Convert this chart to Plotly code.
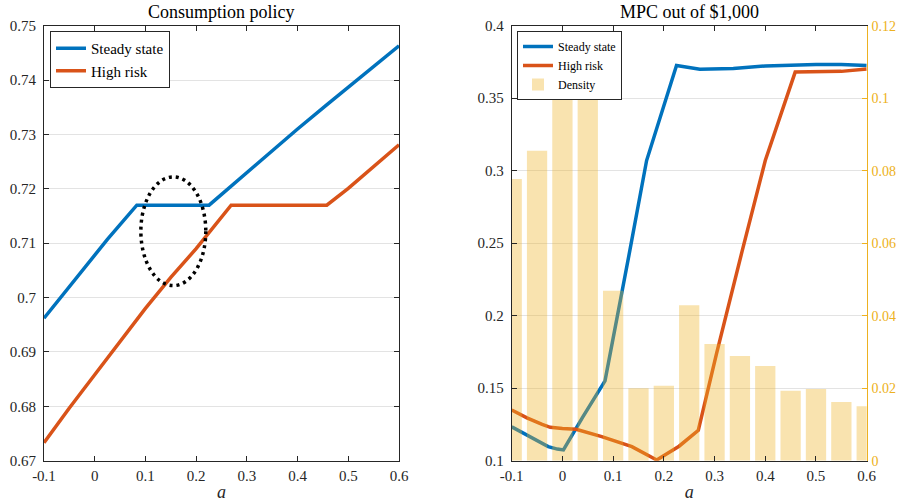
import plotly.graph_objects as go

# ---- Consumption policy (left panel) ----
cons_ss_a = [-0.1, -0.05, 0.0, 0.025, 0.05, 0.083, 0.2255, 0.3, 0.4, 0.458, 0.5, 0.6]
cons_ss_c = [0.6962, 0.7020, 0.7079, 0.7107, 0.7134, 0.717, 0.717, 0.7230, 0.7310, 0.7355, 0.7387, 0.7463]

cons_hr_a = [-0.1, -0.05, 0.0, 0.05, 0.1, 0.15, 0.2, 0.269, 0.4576, 0.5, 0.6]
cons_hr_c = [0.6733, 0.6797, 0.6858, 0.6918, 0.6980, 0.7037, 0.7090, 0.717, 0.717, 0.7201, 0.7281]

# ---- MPC out of $1,000 (right panel) ----
mpc_ss_a = [-0.1, -0.07, -0.04, -0.028, -0.01, 0.002, 0.04, 0.084, 0.133, 0.166, 0.225,
            0.245, 0.271, 0.337, 0.4, 0.5, 0.55, 0.6]
mpc_ss_m = [0.1234, 0.1175, 0.1120, 0.1097, 0.1080, 0.1074, 0.130, 0.155, 0.245, 0.307, 0.3725,
            0.3712, 0.370, 0.3705, 0.3722, 0.3733, 0.3733, 0.3725]

mpc_hr_a = [-0.1, -0.07, -0.04, -0.024, 0.0, 0.027, 0.0775, 0.137, 0.186, 0.23, 0.268,
            0.304, 0.354, 0.40, 0.459, 0.5, 0.55, 0.6]
mpc_hr_m = [0.135, 0.1295, 0.1250, 0.1230, 0.1222, 0.1217, 0.1166, 0.1097, 0.1005, 0.110, 0.121,
            0.174, 0.244, 0.307, 0.368, 0.368, 0.3685, 0.3702]

density_a = [-0.1, -0.05, 0.0, 0.05, 0.1, 0.15, 0.2, 0.25, 0.3, 0.35, 0.4, 0.45, 0.5, 0.55, 0.6]
density_v = [0.0777, 0.0855, 0.1012, 0.107, 0.0469, 0.0200, 0.0207, 0.0429, 0.0322,
             0.0289, 0.0261, 0.0193, 0.0198, 0.0162, 0.0150]

# ---- tick labels ----
a_ticks = [-0.1, 0.0, 0.1, 0.2, 0.3, 0.4, 0.5, 0.6]
a_ticktext = ["-0.1", "0", "0.1", "0.2", "0.3", "0.4", "0.5", "0.6"]
cons_ticks = [0.67, 0.68, 0.69, 0.70, 0.71, 0.72, 0.73, 0.74, 0.75]
cons_ticktext = ["0.67", "0.68", "0.69", "0.7", "0.71", "0.72", "0.73", "0.74", "0.75"]
mpc_ticks = [0.1, 0.15, 0.2, 0.25, 0.3, 0.35, 0.4]
mpc_ticktext = ["0.1", "0.15", "0.2", "0.25", "0.3", "0.35", "0.4"]
dens_ticks = [0.0, 0.02, 0.04, 0.06, 0.08, 0.10, 0.12]
dens_ticktext = ["0", "0.02", "0.04", "0.06", "0.08", "0.1", "0.12"]

# highlighted region on the consumption policy
ellipse_center = (0.155, 0.7122)
ellipse_radius = (0.064, 0.0100)

BLUE = "#0072BD"
RED = "#D95319"
GOLD = "#EDB120"
INK = "#262626"
FONT = "Liberation Serif"
W, H = 899, 502

fig = go.Figure()

fig.add_trace(go.Scatter(x=cons_ss_a, y=cons_ss_c, mode="lines", name="Steady state",
                         line=dict(color=BLUE, width=3.5), xaxis="x", yaxis="y", legend="legend"))
fig.add_trace(go.Scatter(x=cons_hr_a, y=cons_hr_c, mode="lines", name="High risk",
                         line=dict(color=RED, width=3.5), xaxis="x", yaxis="y", legend="legend"))

fig.add_trace(go.Scatter(x=mpc_ss_a, y=mpc_ss_m, mode="lines", name="Steady state",
                         line=dict(color=BLUE, width=3.5), xaxis="x2", yaxis="y2", legend="legend2"))
fig.add_trace(go.Scatter(x=mpc_hr_a, y=mpc_hr_m, mode="lines", name="High risk",
                         line=dict(color=RED, width=3.5), xaxis="x2", yaxis="y2", legend="legend2"))
fig.add_trace(go.Bar(x=density_a, y=density_v, name="Density", width=0.04,
                     marker=dict(color="rgba(237,177,32,0.36)", line=dict(width=0)),
                     xaxis="x2", yaxis="y3", legend="legend2"))

ydom = [1 - 460.7 / H, 1 - 25.7 / H]
common_x = dict(range=[-0.1, 0.6], tickvals=a_ticks, ticktext=a_ticktext, ticks="inside",
                ticklen=5, tickcolor=INK, showline=True, linecolor=INK, linewidth=1,
                mirror="ticks", showgrid=False, zeroline=False, ticklabelstandoff=1,
                automargin=False,
                tickfont=dict(family=FONT, size=15, color=INK),
                title=dict(text="<i>a</i>", font=dict(family=FONT, size=18, color=INK), standoff=4))
ytick_font = dict(family=FONT, size=15, color=INK)

fig.update_layout(
    width=W, height=H,
    margin=dict(l=0, r=0, t=0, b=0, autoexpand=False),
    paper_bgcolor="white", plot_bgcolor="white",
    showlegend=True,
    barmode="overlay",
    xaxis=dict(domain=[44 / W, 399 / W], anchor="y", **common_x),
    yaxis=dict(domain=ydom, anchor="x", range=[0.67, 0.75], tickvals=cons_ticks,
               ticktext=cons_ticktext, ticks="inside", ticklen=5, tickcolor=INK,
               showline=True, linecolor=INK, linewidth=1, mirror="ticks",
               showgrid=True, gridcolor="#e3e3e3", gridwidth=1, zeroline=False,
               automargin=False, ticklabelstandoff=4, tickfont=ytick_font),
    xaxis2=dict(domain=[511.7 / W, 866.7 / W], anchor="y2", **common_x),
    yaxis2=dict(domain=ydom, anchor="x2", range=[0.1, 0.4], tickvals=mpc_ticks,
                ticktext=mpc_ticktext, ticks="inside", ticklen=5, tickcolor=INK,
                showline=True, linecolor=INK, linewidth=1, mirror=False,
                showgrid=True, gridcolor="#e3e3e3", gridwidth=1, zeroline=False,
                automargin=False, ticklabelstandoff=4, tickfont=ytick_font),
    yaxis3=dict(anchor="x2", overlaying="y2", side="right", range=[0, 0.12],
                tickvals=dens_ticks, ticktext=dens_ticktext, ticks="inside", ticklen=5,
                tickcolor=GOLD, showline=True, linecolor=GOLD, linewidth=1,
                showgrid=False, zeroline=False, automargin=False, ticklabelstandoff=1,
                tickfont=dict(family=FONT, size=14, color=GOLD)),
    legend=dict(x=50 / W, y=1 - 31 / H, xanchor="left", yanchor="top",
                bgcolor="white", bordercolor=INK, borderwidth=1,
                font=dict(family=FONT, size=15, color="black"),
                itemwidth=30, tracegroupgap=0, traceorder="normal"),
    legend2=dict(x=517 / W, y=1 - 31 / H, xanchor="left", yanchor="top",
                 bgcolor="white", bordercolor=INK, borderwidth=1,
                 font=dict(family=FONT, size=12, color="black"),
                 itemwidth=30, tracegroupgap=0, traceorder="normal"),
    annotations=[
        dict(text="Consumption policy", x=(44 + 399) / 2 / W, y=1 - 12 / H, xref="paper",
             yref="paper", showarrow=False, font=dict(family=FONT, size=18, color="black"),
             xanchor="center", yanchor="middle"),
        dict(text="MPC out of $1,000", x=(511.7 + 866.7) / 2 / W, y=1 - 12 / H, xref="paper",
             yref="paper", showarrow=False, font=dict(family=FONT, size=18, color="black"),
             xanchor="center", yanchor="middle"),
    ],
    shapes=[
        dict(type="circle", xref="x", yref="y",
             x0=ellipse_center[0] - ellipse_radius[0], x1=ellipse_center[0] + ellipse_radius[0],
             y0=ellipse_center[1] - ellipse_radius[1], y1=ellipse_center[1] + ellipse_radius[1],
             line=dict(color="black", width=3.5, dash="3px,4px")),
    ],
)

fig.write_html("out.html")
